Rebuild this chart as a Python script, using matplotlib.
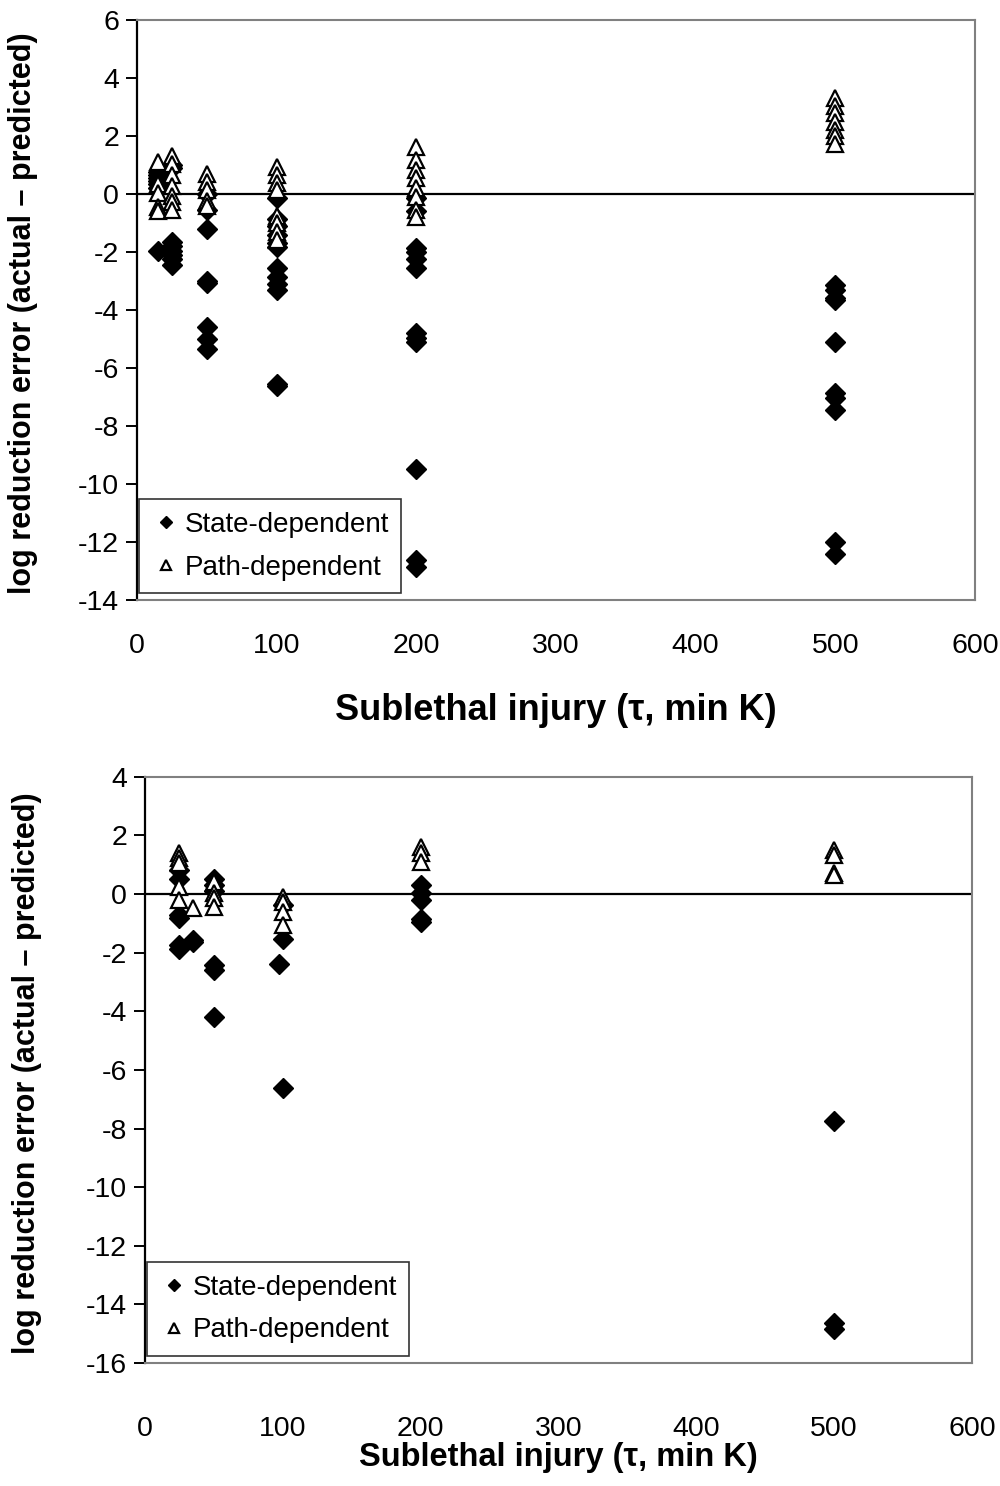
import numpy as np
import matplotlib
matplotlib.use("Agg")
import matplotlib.pyplot as plt

plt.rcParams['font.family'] = ['Liberation Sans', 'DejaVu Sans']
plt.rcParams['axes.unicode_minus'] = False

# top panel
top_state_x = [15]*7 + [25]*8 + [50]*8 + [100]*12 + [200]*12 + [500]*10
top_state_y = [0.75, 0.65, 0.55, 0.45, 0.35, 0.2, -1.97,
               1.0, 0.9, -1.65, -1.8, -1.95, -2.1, -2.25, -2.45,
               0.0, -0.55, -1.2, -3.0, -3.08, -4.6, -5.0, -5.35,
               -0.15, -0.85, -1.1, -1.4, -1.7, -1.82, -2.55, -2.85, -3.1, -3.3, -6.55, -6.62,
               -0.15, -0.6, -1.85, -2.0, -2.25, -2.55, -4.8, -4.95, -5.1, -9.48, -12.62, -12.85,
               -3.14, -3.31, -3.6, -3.66, -5.1, -6.85, -7.02, -7.43, -12.0, -12.4]
top_path_x = [15]*5 + [25]*7 + [50]*5 + [100]*8 + [200]*8 + [500]*7
top_path_y = [1.1, 0.35, 0.05, -0.45, -0.6,
              1.3, 1.05, 0.65, 0.28, -0.08, -0.28, -0.55,
              0.7, 0.4, 0.15, -0.25, -0.4,
              0.95, 0.65, 0.38, 0.15, -0.75, -1.0, -1.3, -1.6,
              1.62, 1.17, 0.83, 0.54, 0.2, -0.1, -0.55, -0.78,
              3.3, 3.05, 2.8, 2.5, 2.2, 2.0, 1.72]

# bottom panel
bot_state_x = [25]*6 + [35]*2 + [50]*6 + [97] + [100]*3 + [200]*5 + [500]*3
bot_state_y = [0.82, 0.5, -0.72, -0.82, -1.75, -1.86,
               -1.55, -1.62,
               0.5, 0.3, 0.1, -2.42, -2.6, -4.18,
               -2.39, -0.38, -1.52, -6.6,
               0.3, 0.05, -0.2, -0.85, -0.95,
               -7.75, -14.65, -14.85]
bot_path_x = [25]*5 + [35] + [50]*4 + [100]*4 + [200]*3 + [500]*4
bot_path_y = [1.39, 1.22, 1.05, 0.25, -0.2,
              -0.49,
              0.4, 0.05, -0.15, -0.45,
              -0.1, -0.26, -0.6, -1.06,
              1.6, 1.39, 1.1,
              1.5, 1.33, 0.72, 0.65]

xticks = [0, 100, 200, 300, 400, 500, 600]


def panel(ax, sx, sy, px, py, ylim, yticks, xpad, labpad, xlab_size, ylab_x):
    ax.plot(sx, sy, 'D', color='black', ms=10, label='State-dependent', zorder=3)
    ax.plot(px, py, '^', mfc='white', mec='black', mew=1.6, ms=12,
            label='Path-dependent', zorder=4)
    ax.axhline(0, color='black', lw=1.6, zorder=2)
    ax.set_xlim(0, 600)
    ax.set_ylim(*ylim)
    ax.set_xticks(xticks)
    ax.set_yticks(yticks)
    for s in ['top', 'right', 'bottom']:
        ax.spines[s].set_color('#808080')
        ax.spines[s].set_linewidth(1.5)
    ax.spines['left'].set_linewidth(1.6)
    ax.tick_params(axis='x', length=0, pad=xpad, labelsize=20.5)
    ax.tick_params(axis='y', direction='out', length=8, width=1.4, labelsize=20.5, pad=5)
    ax.set_xlabel(u'Sublethal injury (\u03c4, min K)', fontsize=xlab_size, fontweight='bold',
                  labelpad=labpad)
    ax.set_ylabel(u'log reduction error (actual \u2013 predicted)', fontsize=22,
                  fontweight='bold')
    ax.yaxis.set_label_coords(ylab_x, 0.495)
    leg = ax.legend(loc='lower left', bbox_to_anchor=(0.002, 0.012), fontsize=20,
                    frameon=True, fancybox=False, borderaxespad=0,
                    handletextpad=0.1, handlelength=1.1, markerscale=0.6,
                    borderpad=0.45, labelspacing=0.6)
    leg.get_frame().set_edgecolor('black')
    leg.get_frame().set_linewidth(1.2)


fig = plt.figure(figsize=(10, 14.86), dpi=100)
ax1 = fig.add_axes([0.137, 0.5962, 0.838, 0.3903])
ax2 = fig.add_axes([0.145, 0.0828, 0.827, 0.3944])

panel(ax1, top_state_x, top_state_y, top_path_x, top_path_y, (-14, 6), range(-14, 7, 2),
      24, 24, 26, -0.118)
panel(ax2, bot_state_x, bot_state_y, bot_path_x, bot_path_y, (-16, 4), range(-16, 5, 2),
      38, 0.5, 23.5, -0.125)

fig.savefig('out.png', dpi=100)
